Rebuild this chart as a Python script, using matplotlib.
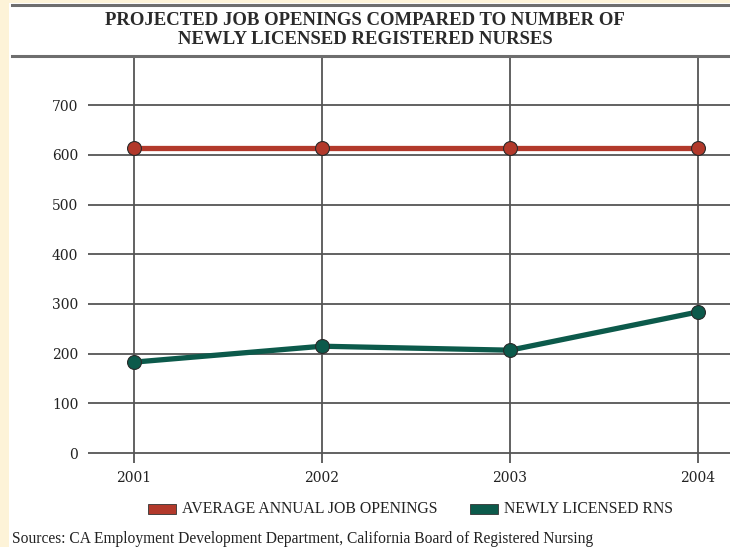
import matplotlib.pyplot as plt
from matplotlib.patches import Rectangle
from matplotlib.lines import Line2D

years = [2001, 2002, 2003, 2004]
job_openings = [614, 614, 614, 614]
new_rns = [183, 215, 207, 284]
series_labels = ['AVERAGE ANNUAL JOB OPENINGS', 'NEWLY LICENSED RNS']
series_colors = ['#B2392B', '#0C5A4B']
y_ticks = [0, 100, 200, 300, 400, 500, 600, 700]

title = 'PROJECTED JOB OPENINGS COMPARED TO NUMBER OF\nNEWLY LICENSED REGISTERED NURSES'
source = 'Sources: CA Employment Development Department, California Board of Registered Nursing'

plt.rcParams['font.family'] = ['Liberation Serif', 'DejaVu Serif']

W, H = 730, 547
fig = plt.figure(figsize=(W / 100, H / 100), dpi=100, facecolor='white')

# cream margin on the left and along the top
cream = '#FDF3D8'
fig.patches.append(Rectangle((0, 0), 9 / W, 1, transform=fig.transFigure,
                             facecolor=cream, edgecolor='none'))
fig.patches.append(Rectangle((0, 1 - 3 / H), 1, 3 / H, transform=fig.transFigure,
                             facecolor=cream, edgecolor='none'))
# rules above and below the title
for yp in (5, 56):
    fig.lines.append(Line2D([12 / W, 1], [1 - yp / H, 1 - yp / H], transform=fig.transFigure,
                            color='#6e6e6e', lw=2.2))

fig.text(365 / W, 1 - 30 / H, title, ha='center', va='center', fontsize=13.5,
         fontweight='bold', color='#2a2a2a', linespacing=1.2)

ax = fig.add_axes([88 / W, (H - 463) / H, 1 - 88 / W, (463 - 57) / H])
ax.set_facecolor('none')
for s in ax.spines.values():
    s.set_visible(False)

ax.set_xlim(2000.755, 2004.17)
ax.set_ylim(-20, 797)

for y in y_ticks:
    ax.axhline(y, color='#555555', lw=1.3, zorder=1)
for x in years:
    ax.axvline(x, color='#555555', lw=1.3, zorder=1)

for vals, col in zip([job_openings, new_rns], series_colors):
    ax.plot(years, vals, color=col, lw=3.8, marker='o', markersize=10,
            markerfacecolor=col, markeredgecolor='#2a2a2a', markeredgewidth=0.8, zorder=3)

ax.set_yticks(y_ticks)
ax.set_xticks(years)
ax.tick_params(length=0, labelsize=10, colors='#222222')
ax.tick_params(axis='y', pad=7)
ax.tick_params(axis='x', pad=6)
for lbl in ax.get_xticklabels() + ax.get_yticklabels():
    lbl.set_family('DejaVu Serif')

# legend
leg_x = [148, 470]
for lx, lab, col in zip(leg_x, series_labels, series_colors):
    fig.patches.append(Rectangle((lx / W, 1 - 514 / H), 28 / W, 10 / H, transform=fig.transFigure,
                                 facecolor=col, edgecolor='#333333', lw=0.6))
    fig.text((lx + 34) / W, 1 - 509 / H, lab, ha='left', va='center', fontsize=11.3,
             color='#222222')

fig.text(12 / W, 1 - 539 / H, source, ha='left', va='center', fontsize=11.2, color='#222222')

fig.savefig('out.png', dpi=100, facecolor=fig.get_facecolor())
